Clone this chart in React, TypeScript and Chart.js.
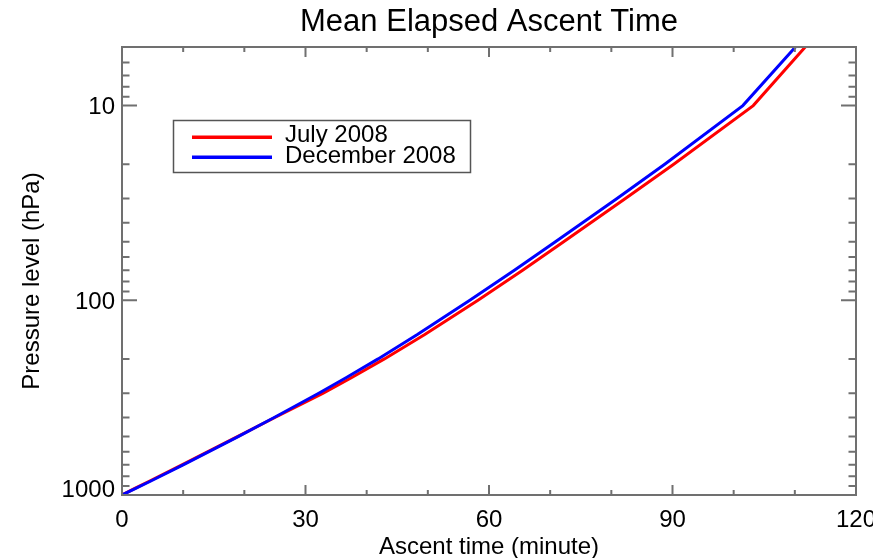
import React, { useEffect, useRef } from "react";
import { Chart, registerables } from "chart.js";

Chart.register(...registerables);

// ---- data ----
const pressureLevels = [1000, 925, 850, 700, 500, 400, 300, 250, 200, 150, 100, 70, 50, 30, 20, 10, 5];
const julyTimes = [0, 2.1, 4.45, 9.8, 18.95, 25.0, 32.9, 37.5, 42.9, 49.5, 58.2, 65.5, 72.2, 82.3, 90.2, 103.2, 111.7];
const decemberTimes = [0, 2.24, 4.64, 10.0, 19.07, 24.88, 32.16, 36.62, 41.87, 48.29, 56.87, 64.15, 70.86, 80.93, 88.73, 101.5, 110.1];
const seriesLabels = ["July 2008", "December 2008"];
const seriesColors = ["#ff0000", "#0000ff"];

const xMajorTicks = [0, 30, 60, 90, 120];
const xMinorTicks = [10, 20, 40, 50, 70, 80, 100, 110];
const yMajorTicks = [10, 100, 1000];
const yMinorTicks = [6, 7, 8, 9, 20, 30, 40, 50, 60, 70, 80, 90, 200, 300, 400, 500, 600, 700, 800, 900];

const titleText = "Mean Elapsed Ascent Time";
const xTitle = "Ascent time (minute)";
const yTitle = "Pressure level (hPa)";

const FONT = '"Liberation Sans", Arial, Helvetica, sans-serif';
const AXIS_COLOR = "#707070";

const decorPlugin = {
  id: "decor",
  afterDraw(chart: any) {
    const { ctx, chartArea: a, scales } = chart;
    const xs = scales.x;
    const ys = scales.y;
    ctx.save();

    // ticks (inside the box, mirrored on all four sides)
    ctx.strokeStyle = AXIS_COLOR;
    ctx.lineWidth = 2;
    ctx.beginPath();
    const xTick = (v: number, len: number) => {
      const px = xs.getPixelForValue(v);
      ctx.moveTo(px, a.bottom);
      ctx.lineTo(px, a.bottom - len);
      ctx.moveTo(px, a.top);
      ctx.lineTo(px, a.top + len);
    };
    const yTick = (v: number, len: number) => {
      const py = ys.getPixelForValue(v);
      ctx.moveTo(a.left, py);
      ctx.lineTo(a.left + len, py);
      ctx.moveTo(a.right, py);
      ctx.lineTo(a.right - len, py);
    };
    xMajorTicks.forEach((v) => xTick(v, 10));
    xMinorTicks.forEach((v) => xTick(v, 5));
    yMajorTicks.forEach((v) => yTick(v, 15));
    yMinorTicks.forEach((v) => yTick(v, 7.5));
    ctx.stroke();

    // box
    ctx.strokeRect(a.left, a.top, a.right - a.left, a.bottom - a.top);

    // tick labels
    ctx.fillStyle = "#000";
    ctx.font = `24px ${FONT}`;
    ctx.textBaseline = "alphabetic";
    ctx.textAlign = "center";
    xMajorTicks.forEach((v) => {
      ctx.fillText(String(v), xs.getPixelForValue(v), a.bottom + 32);
    });
    ctx.textAlign = "right";
    yMajorTicks.forEach((v) => {
      const py = ys.getPixelForValue(v);
      ctx.fillText(String(v), a.left - 7, Math.min(py + 8.5, a.bottom + 2));
    });

    // title
    ctx.textAlign = "center";
    ctx.font = `31px ${FONT}`;
    ctx.fillText(titleText, (a.left + a.right) / 2, 31);

    // axis titles
    ctx.font = `24px ${FONT}`;
    ctx.fillText(xTitle, (a.left + a.right) / 2, 554);
    ctx.save();
    ctx.translate(39, 281);
    ctx.rotate(-Math.PI / 2);
    ctx.fillText(yTitle, 0, 0);
    ctx.restore();

    // legend
    const lx = 173.5, ly = 120.5, lw = 297, lh = 52;
    ctx.fillStyle = "#fff";
    ctx.fillRect(lx, ly, lw, lh);
    ctx.strokeStyle = "#555";
    ctx.lineWidth = 1.5;
    ctx.strokeRect(lx, ly, lw, lh);
    const rows = [137.3, 157.3];
    const baselines = [142.3, 163.3];
    seriesLabels.forEach((lab, i) => {
      ctx.strokeStyle = seriesColors[i];
      ctx.lineWidth = 3.5;
      ctx.beginPath();
      ctx.moveTo(192, rows[i]);
      ctx.lineTo(272, rows[i]);
      ctx.stroke();
      ctx.fillStyle = "#000";
      ctx.textAlign = "left";
      ctx.font = `24px ${FONT}`;
      ctx.fillText(lab, 285, baselines[i]);
    });

    ctx.restore();
  },
};

export default function App() {
  const canvasRef = useRef<HTMLCanvasElement | null>(null);

  useEffect(() => {
    if (!canvasRef.current) return;
    const toPoints = (times: number[]) => times.map((t, i) => ({ x: t, y: pressureLevels[i] }));
    const chart = new Chart(canvasRef.current, {
      type: "line",
      data: {
        datasets: [
          {
            label: seriesLabels[0],
            data: toPoints(julyTimes),
            borderColor: seriesColors[0],
            backgroundColor: seriesColors[0],
            borderWidth: 3,
            pointRadius: 0,
            tension: 0,
            fill: false,
            order: 2,
          },
          {
            label: seriesLabels[1],
            data: toPoints(decemberTimes),
            borderColor: seriesColors[1],
            backgroundColor: seriesColors[1],
            borderWidth: 3,
            pointRadius: 0,
            tension: 0,
            fill: false,
            order: 1,
          },
        ],
      },
      options: {
        responsive: false,
        animation: false,
        devicePixelRatio: 1,
        events: [],
        layout: { padding: { left: 122, right: 17, top: 47, bottom: 63 } },
        plugins: {
          legend: { display: false },
          title: { display: false },
          tooltip: { enabled: false },
        },
        scales: {
          x: { type: "linear", min: 0, max: 120, display: false },
          y: { type: "logarithmic", min: 5, max: 1000, reverse: true, display: false },
        },
      },
      plugins: [decorPlugin],
    });
    return () => chart.destroy();
  }, []);

  return (
    <div style={{ position: "absolute", left: 0, top: 0, width: 873, height: 558, background: "#fff" }}>
      <canvas ref={canvasRef} width={873} height={558} />
    </div>
  );
}
